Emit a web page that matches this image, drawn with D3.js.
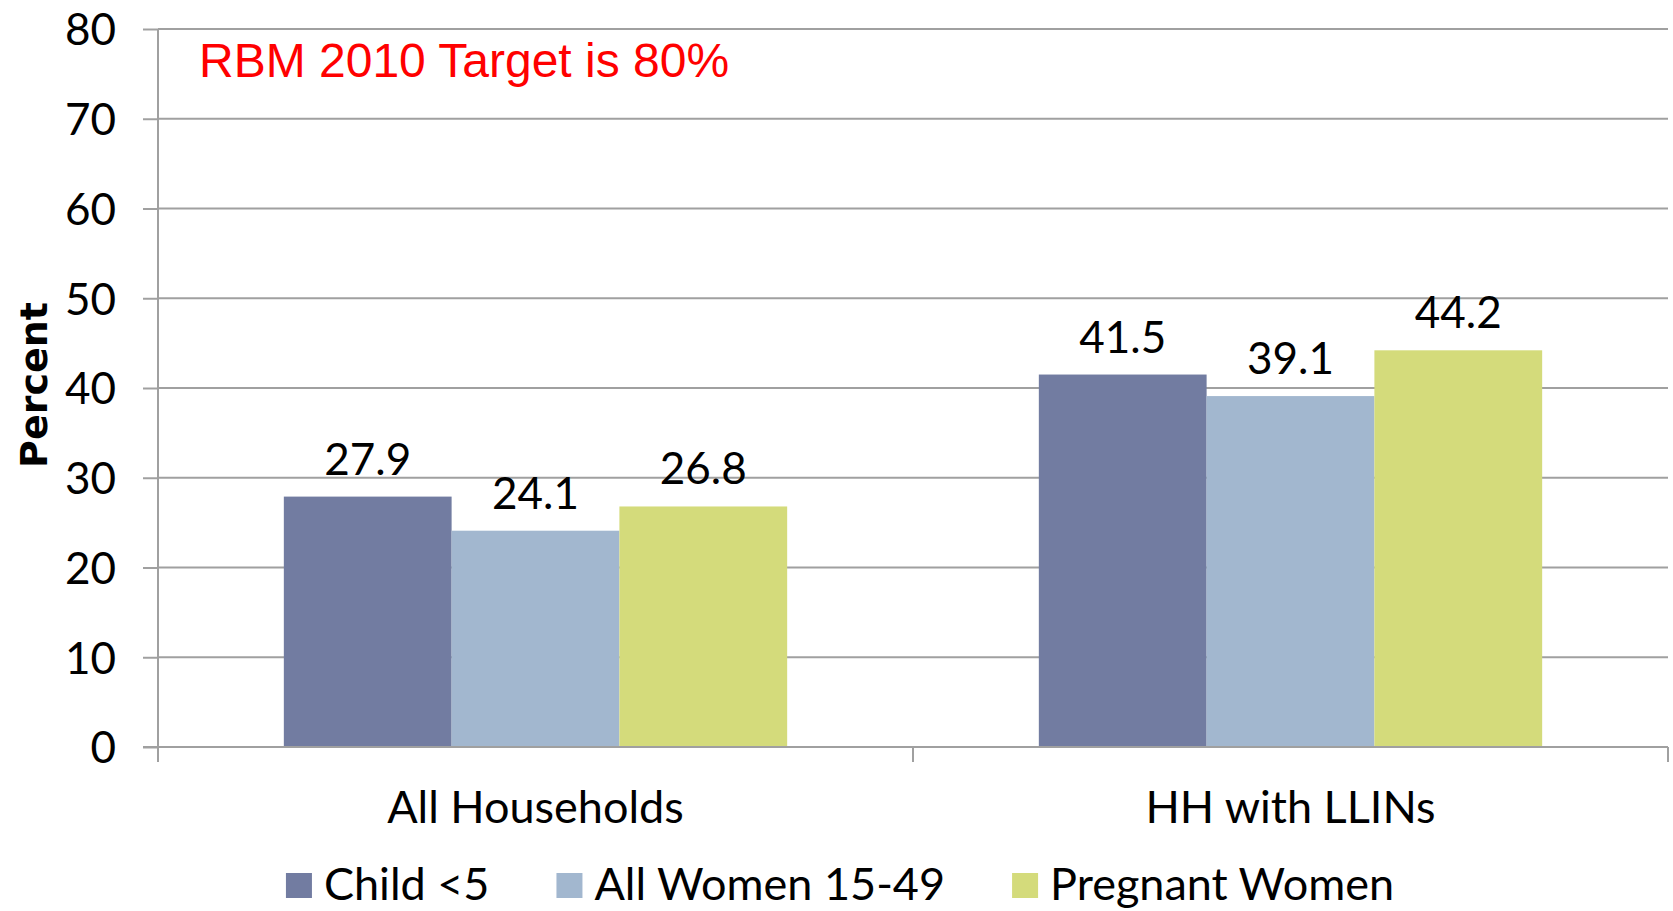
<!DOCTYPE html>
<html>
<head>
<meta charset="utf-8">
<script src="https://cdn.jsdelivr.net/npm/d3@7"></script>
<style>
  body { margin: 0; background: #fff; }
  #chart { width: 1673px; height: 911px; }
</style>
</head>
<body>
<div id="chart"></div>
<script>
const categories = ['All Households', 'HH with LLINs'];
const seriesNames = ['Child <5', 'All Women 15-49', 'Pregnant Women'];
const childUnder5 = [27.9, 41.5];
const allWomen = [24.1, 39.1];
const pregnantWomen = [26.8, 44.2];
const yTicks = [0, 10, 20, 30, 40, 50, 60, 70, 80];
const colors = ['#727ca1', '#a2b7cf', '#d4db7b'];

const width = 1673, height = 911;
const margin = { top: 29, right: 5, bottom: 164, left: 158 };
const mainFont = 'Lato, "Open Sans", sans-serif';

const svg = d3.select('#chart')
  .append('svg')
  .attr('width', width)
  .attr('height', height);

const x0 = d3.scaleBand()
  .domain(categories)
  .range([margin.left, width - margin.right]);

const x1 = d3.scaleBand()
  .domain(seriesNames)
  .range([0, x0.bandwidth()])
  .paddingOuter(0.75)
  .paddingInner(0);

const y = d3.scaleLinear()
  .domain([0, 80])
  .range([height - margin.bottom, margin.top]);

// gridlines + y axis
const yAxis = svg.append('g')
  .attr('transform', 'translate(' + margin.left + ',0)')
  .call(d3.axisLeft(y).tickValues(yTicks).tickSize(15).tickPadding(27))
  .call(g => g.select('.domain').remove());
yAxis.selectAll('line').attr('stroke', '#a0a0a0').attr('stroke-width', 2);
yAxis.selectAll('text')
  .attr('font-family', mainFont)
  .attr('font-size', 44)
  .attr('fill', '#000')
  .attr('dy', '0.36em');

svg.append('g')
  .selectAll('line')
  .data(yTicks)
  .enter()
  .append('line')
  .attr('x1', margin.left)
  .attr('x2', width - margin.right)
  .attr('y1', d => y(d))
  .attr('y2', d => y(d))
  .attr('stroke', '#a0a0a0')
  .attr('stroke-width', 2);

// vertical axis line
svg.append('line')
  .attr('x1', margin.left).attr('x2', margin.left)
  .attr('y1', y(80)).attr('y2', y(0) + 15)
  .attr('stroke', '#a0a0a0')
  .attr('stroke-width', 2);

const seriesData = [childUnder5, allWomen, pregnantWomen];
const rows = [];
categories.forEach((c, i) => {
  seriesNames.forEach((s, j) => {
    rows.push({ cat: c, series: s, value: seriesData[j][i], idx: j });
  });
});

svg.append('g')
  .selectAll('rect')
  .data(rows)
  .enter()
  .append('rect')
  .attr('x', d => x0(d.cat) + x1(d.series))
  .attr('y', d => y(d.value))
  .attr('width', x1.bandwidth())
  .attr('height', d => y(0) - y(d.value))
  .attr('fill', d => colors[d.idx]);

// value labels
svg.append('g')
  .selectAll('text')
  .data(rows)
  .enter()
  .append('text')
  .attr('x', d => x0(d.cat) + x1(d.series) + x1.bandwidth() / 2)
  .attr('y', d => y(d.value) - 22)
  .attr('text-anchor', 'middle')
  .attr('font-family', mainFont)
  .attr('font-size', 44)
  .attr('fill', '#000')
  .text(d => d.value.toFixed(1));

// x axis baseline and ticks
const xAxis = svg.append('g')
  .attr('transform', 'translate(0,' + y(0) + ')');
xAxis.append('line')
  .attr('x1', margin.left - 15).attr('x2', width - margin.right)
  .attr('stroke', '#a0a0a0').attr('stroke-width', 2);
const edges = categories.map(c => x0(c)).concat([x0.range()[1]]);
xAxis.selectAll('.tick')
  .data(edges)
  .enter()
  .append('line')
  .attr('x1', d => d).attr('x2', d => d)
  .attr('y1', 0).attr('y2', 15)
  .attr('stroke', '#a0a0a0').attr('stroke-width', 2);
xAxis.selectAll('.cat')
  .data(categories)
  .enter()
  .append('text')
  .attr('x', d => x0(d) + x0.bandwidth() / 2)
  .attr('y', 76)
  .attr('text-anchor', 'middle')
  .attr('font-family', mainFont)
  .attr('font-size', 45)
  .attr('fill', '#000')
  .text(d => d);

// y title
svg.append('text')
  .attr('transform', 'translate(47,' + 385 + ') rotate(-90)')
  .attr('text-anchor', 'middle')
  .attr('font-family', '"DejaVu Sans", sans-serif')
  .attr('font-weight', 'bold')
  .attr('font-size', 38)
  .attr('fill', '#000')
  .text('Percent');

// target annotation
svg.append('text')
  .attr('x', 199)
  .attr('y', 77)
  .attr('font-family', '"Liberation Sans", Arial, sans-serif')
  .attr('font-size', 48)
  .attr('fill', '#ff0000')
  .text('RBM 2010 Target is 80%');

// legend
const legend = svg.append('g');
let lx = 0;
seriesNames.forEach((s, i) => {
  const item = legend.append('g').attr('transform', 'translate(' + lx + ',0)');
  item.append('rect')
    .attr('x', 0).attr('y', -27)
    .attr('width', 26).attr('height', 25)
    .attr('fill', colors[i]);
  const t = item.append('text')
    .attr('x', 38).attr('y', 0)
    .attr('font-family', mainFont)
    .attr('font-size', 45)
    .attr('fill', '#000')
    .text(s);
  lx += 38 + t.node().getComputedTextLength() + 67;
});
const legendW = lx - 67;
legend.attr('transform', 'translate(' + (840 - legendW / 2) + ',900)');
</script>
</body>
</html>
